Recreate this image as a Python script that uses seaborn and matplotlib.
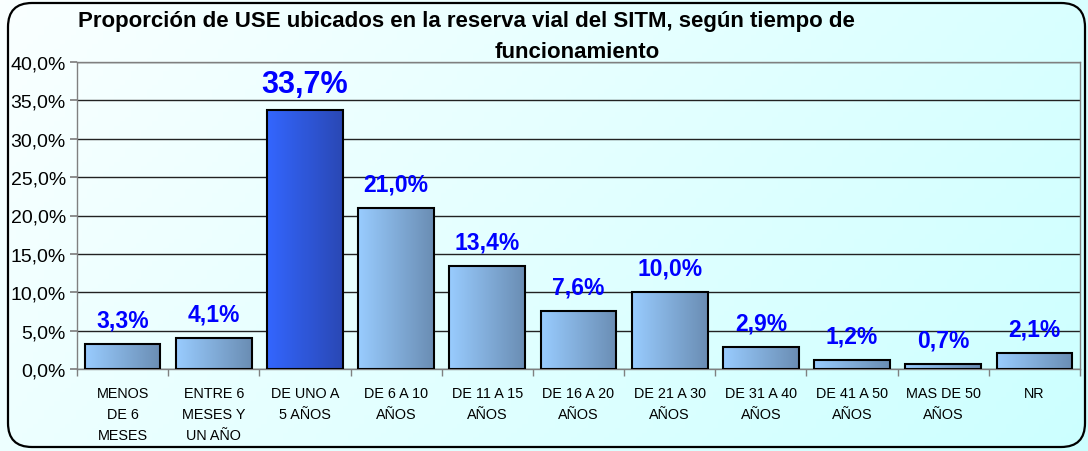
import numpy as np
import pandas as pd
import matplotlib
matplotlib.use("Agg")
import matplotlib.pyplot as plt
import seaborn as sns
from matplotlib.patches import FancyBboxPatch
from matplotlib.colors import LinearSegmentedColormap
from matplotlib.ticker import FuncFormatter, MultipleLocator, FixedLocator

categories = ["MENOS\nDE 6\nMESES", "ENTRE 6\nMESES Y\nUN AÑO", "DE UNO A\n5 AÑOS",
              "DE 6 A 10\nAÑOS", "DE 11 A 15\nAÑOS", "DE 16 A 20\nAÑOS",
              "DE 21 A 30\nAÑOS", "DE 31 A 40\nAÑOS", "DE 41 A 50\nAÑOS",
              "MAS DE 50\nAÑOS", "NR"]
values = [3.3, 4.1, 33.7, 21.0, 13.4, 7.6, 10.0, 2.9, 1.2, 0.7, 2.1]
highlight = 2
title_line1 = "Proporción de USE ubicados en la reserva vial del SITM, según tiempo de"
title_line2 = "funcionamiento"

sns.set_theme(style="white")
plt.rcParams["font.family"] = ["Liberation Sans", "DejaVu Sans"]

W, H = 1088, 452
fig = plt.figure(figsize=(W / 100, H / 100), dpi=100)

# figure background gradient
bg = fig.add_axes([0, 0, 1, 1], zorder=-10)
bg.set_axis_off()
xx, yy = np.meshgrid(np.linspace(0, 1, 200), np.linspace(0, 1, 100))
t = np.clip(xx * 0.65 + yy * 0.25 + 0.1, 0, 1)
bgcmap = LinearSegmentedColormap.from_list("bg", ["#FFFFFF", "#CCFFFF"])
bg.imshow(t, cmap=bgcmap, extent=[0, 1, 0, 1], aspect="auto", origin="upper", vmin=0, vmax=1)
bg.set_xlim(0, 1)
bg.set_ylim(0, 1)
border = FancyBboxPatch((8 / W, 4 / H), (1077 / W), (444 / H),
                        boxstyle="round,pad=0,rounding_size=0.022",
                        transform=bg.transAxes, fill=False, ec="black", lw=1.6,
                        mutation_aspect=W / H)
bg.add_patch(border)

ax = fig.add_axes([77 / W, 1 - 370 / H, (1080 - 77) / W, (370 - 63) / H])
ax.patch.set_alpha(0)

df = pd.DataFrame({"cat": categories, "val": values})
sns.barplot(data=df, x="cat", y="val", ax=ax, width=0.83, color="#99CCFF",
            edgecolor="black", linewidth=1.5, zorder=3)

normal_cmap = LinearSegmentedColormap.from_list("n", ["#99CCFF", "#6A8DB3"])
hi_cmap = LinearSegmentedColormap.from_list("h", ["#3366FF", "#2A48B4"])
grad = np.linspace(0, 1, 256).reshape(1, -1)
for i, p in enumerate(ax.patches):
    x0, y0 = p.get_x(), p.get_y()
    w, h = p.get_width(), p.get_height()
    p.set_facecolor("none")
    im = ax.imshow(grad, cmap=hi_cmap if i == highlight else normal_cmap,
                   extent=[x0, x0 + w, y0, y0 + h], aspect="auto", zorder=2.9)
    im.set_clip_path(p)
    fs = 22 if i == highlight else 16.5
    off = 8 if i == highlight else 9
    ax.annotate(f"{values[i]:.1f}%".replace(".", ","), (x0 + w / 2, y0 + h),
                xytext=(0, off), textcoords="offset points", ha="center", va="bottom",
                color="#0000FF", fontsize=fs, fontweight="bold", zorder=5)
ax.set_xlim(-0.5, len(categories) - 0.5)
ax.set_ylim(0, 40)

ax.yaxis.set_major_locator(MultipleLocator(5))
ax.yaxis.set_major_formatter(FuncFormatter(lambda v, _: f"{v:.1f}%".replace(".", ",")))
ax.grid(axis="y", color="#222222", lw=1.0, zorder=0)
ax.set_axisbelow(True)
for s in ["top", "right", "left", "bottom"]:
    ax.spines[s].set_color("#808080")
    ax.spines[s].set_linewidth(1.0)

ax.tick_params(axis="y", labelsize=14, left=True, length=5, color="#808080", pad=3,
               labelcolor="black")
ax.tick_params(axis="x", which="major", length=0, labelsize=10.4, pad=12, labelcolor="black")
ax.xaxis.set_minor_locator(FixedLocator(np.arange(-0.5, len(categories), 1.0)))
ax.tick_params(axis="x", which="minor", bottom=True, length=5, color="#808080")
for lab in ax.get_xticklabels():
    lab.set_linespacing(1.65)
    lab.set_verticalalignment("top")
ax.set_xlabel("")
ax.set_ylabel("")

fig.text(466 / W, 1 - 21 / H, title_line1, ha="center", va="center", fontsize=16,
         fontweight="bold", color="black")
fig.text(577 / W, 1 - 52 / H, title_line2, ha="center", va="center", fontsize=16,
         fontweight="bold", color="black")

fig.savefig("out.png", dpi=100)
